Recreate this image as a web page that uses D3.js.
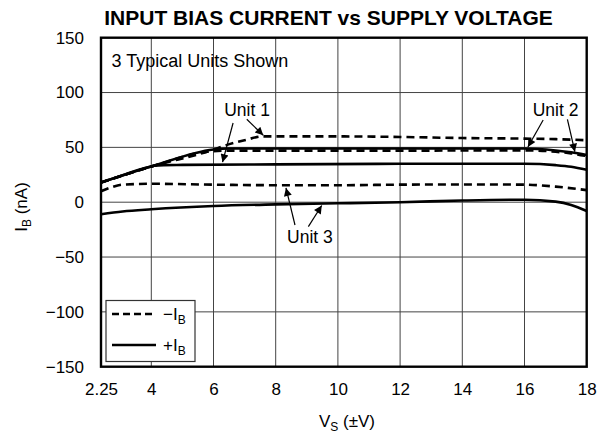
<!DOCTYPE html>
<html>
<head>
<meta charset="utf-8">
<script src="https://cdn.jsdelivr.net/npm/d3@7"></script>
<style>
  html, body { margin: 0; padding: 0; background: #fff; }
  svg { display: block; font-family: "Liberation Sans", Arial, Helvetica, sans-serif; }
</style>
</head>
<body>
<svg id="chart" width="606" height="436"></svg>
<script>
// ---------- data ----------
const title = "INPUT BIAS CURRENT vs SUPPLY VOLTAGE";
const xTicks = [2.25, 4, 6, 8, 10, 12, 14, 16, 18];
const xTickLabels = ["2.25", "4", "6", "8", "10", "12", "14", "16", "18"];
const yTicks = [-150, -100, -50, 0, 50, 100, 150];
const yTickLabels = ["\u2212150", "\u2212100", "\u221250", "0", "50", "100", "150"];

// Unit 1
const unit1NegV = [2.25, 4, 6, 6.3, 7, 7.6, 8, 10, 12, 14, 16, 17, 18];
const unit1NegI = [18, 32.5, 48, 51, 56.5, 60, 60, 60, 59.5, 58.5, 58, 57.5, 56.5];
const unit1PosV = [2.25, 3, 3.75, 4.1, 4.4, 5, 8, 12, 16, 17, 17.5, 18];
const unit1PosI = [18, 24.5, 31, 33.2, 33.8, 34, 34.5, 35, 35, 33.8, 32.3, 29.5];
// Unit 2
const unit2NegV = [2.25, 4, 5.8, 6.5, 8, 12, 16, 17, 17.5, 18];
const unit2NegI = [18, 32.5, 46, 47, 47, 47, 47.3, 46, 44.5, 42];
const unit2PosV = [2.25, 4, 6, 6.5, 8, 12, 16, 17, 17.5, 18];
const unit2PosI = [18, 32.5, 48, 49, 49, 49, 49, 47.2, 45.5, 43];
// Unit 3
const unit3NegV = [2.25, 2.6, 3, 4, 6, 8, 10, 12, 14, 16, 17, 18];
const unit3NegI = [10, 13.5, 16, 16.8, 16, 15.5, 15.5, 16, 16.2, 16, 14.2, 11];
const unit3PosV = [2.25, 3, 4, 6, 8, 10, 12, 14, 16, 17, 17.5, 18];
const unit3PosI = [-11, -8.5, -6.5, -3.5, -2, -1, 0, 1.5, 2.3, 0.5, -2.5, -8];

const series = [
  { name: "Unit 1 -IB", kind: "neg", v: unit1NegV, i: unit1NegI },
  { name: "Unit 1 +IB", kind: "pos", v: unit1PosV, i: unit1PosI },
  { name: "Unit 2 -IB", kind: "neg", v: unit2NegV, i: unit2NegI },
  { name: "Unit 2 +IB", kind: "pos", v: unit2PosV, i: unit2PosI },
  { name: "Unit 3 -IB", kind: "neg", v: unit3NegV, i: unit3NegI },
  { name: "Unit 3 +IB", kind: "pos", v: unit3PosV, i: unit3PosI }
];

// annotation labels (V, nA) and arrows (from -> to)
const labelNames = ["Unit 1", "Unit 2", "Unit 3"];
const labelV = [7.08, 17.0, 9.1];
const labelI = [78.6, 78.6, -37.5];
const arrowFromV = [6.63, 7.07, 16.6, 17.38, 8.62, 9.05];
const arrowFromI = [72.2, 75.6, 75.0, 75.6, -20.8, -22.3];
const arrowToV = [6.29, 7.6, 16.11, 17.62, 8.33, 9.48];
const arrowToI = [36.5, 61.0, 50.3, 46.0, 13.0, -3.0];

// ---------- layout ----------
const svg = d3.select("#chart");
const L = 101, R = 586.7, T = 37.7, B = 366.7;
const FS = 17;

const x = d3.scaleLinear().domain([2.25, 4, 18]).range([L, 151.3, R]);
const y = d3.scaleLinear().domain([-150, 150]).range([B, T]);

// title
svg.append("text")
  .attr("x", 328.5).attr("y", 24.5)
  .attr("text-anchor", "middle")
  .attr("font-size", 21).attr("font-weight", "bold")
  .text(title);

// grid
const grid = svg.append("g");
grid.selectAll("line.v").data(xTicks.slice(1, -1)).enter().append("line")
  .attr("x1", d => x(d)).attr("x2", d => x(d))
  .attr("y1", T).attr("y2", B)
  .attr("stroke", "#444").attr("stroke-width", 1);
grid.selectAll("line.h").data(yTicks.slice(1, -1)).enter().append("line")
  .attr("y1", d => y(d)).attr("y2", d => y(d))
  .attr("x1", L).attr("x2", R)
  .attr("stroke", "#444").attr("stroke-width", 1);

// axes (labels only)
const xAxis = d3.axisBottom(x).tickValues(xTicks)
  .tickFormat((d, k) => xTickLabels[k]).tickSize(0).tickPadding(16);
const gx = svg.append("g").attr("transform", `translate(0,${B})`).call(xAxis);
gx.select(".domain").remove();
gx.selectAll("text").attr("font-size", FS).attr("fill", "#000")
  .attr("font-family", "'Liberation Sans', Arial, sans-serif");

const yAxis = d3.axisLeft(y).tickValues(yTicks)
  .tickFormat((d, k) => yTickLabels[k]).tickSize(0).tickPadding(17);
const gy = svg.append("g").attr("transform", `translate(${L},0)`).call(yAxis);
gy.select(".domain").remove();
gy.selectAll("text").attr("font-size", FS).attr("fill", "#000")
  .attr("font-family", "'Liberation Sans', Arial, sans-serif");

// curves
const line = d3.line().x(d => x(d[0])).y(d => y(d[1])).curve(d3.curveMonotoneX);
const plot = svg.append("g");
series.forEach(s => {
  const pts = s.v.map((v, k) => [v, s.i[k]]);
  plot.append("path")
    .attr("d", line(pts))
    .attr("fill", "none")
    .attr("stroke", "#000")
    .attr("stroke-width", 2.6)
    .attr("stroke-dasharray", s.kind === "neg" ? "8,5" : null);
});

// frame
svg.append("rect")
  .attr("x", L).attr("y", T).attr("width", R - L).attr("height", B - T)
  .attr("fill", "none").attr("stroke", "#000").attr("stroke-width", 2.4);

// "3 Typical Units Shown"
svg.append("text")
  .attr("x", L + 10.5).attr("y", y(123.3))
  .attr("font-size", 18).text("3 Typical Units Shown");

// arrows
const defs = svg.append("defs");
defs.append("marker").attr("id", "ah")
  .attr("viewBox", "0 0 10 10").attr("refX", 10).attr("refY", 5)
  .attr("markerWidth", 13).attr("markerHeight", 8)
  .attr("markerUnits", "userSpaceOnUse")
  .attr("orient", "auto")
  .append("path").attr("d", "M0,0 L10,5 L0,10 Z").attr("fill", "#000");

arrowFromV.forEach((v, k) => {
  svg.append("line")
    .attr("x1", x(v)).attr("y1", y(arrowFromI[k]))
    .attr("x2", x(arrowToV[k])).attr("y2", y(arrowToI[k]))
    .attr("stroke", "#000").attr("stroke-width", 1.2)
    .attr("marker-end", "url(#ah)");
});

labelNames.forEach((n, k) => {
  svg.append("text")
    .attr("x", x(labelV[k])).attr("y", y(labelI[k]))
    .attr("text-anchor", "middle").attr("font-size", 17.5)
    .text(n);
});

// legend
const lg = svg.append("g");
lg.append("rect").attr("x", 106).attr("y", 300.5).attr("width", 89).attr("height", 61)
  .attr("fill", "#fff").attr("stroke", "#333").attr("stroke-width", 1.2);
lg.append("line").attr("x1", 112).attr("x2", 156).attr("y1", 314).attr("y2", 314)
  .attr("stroke", "#000").attr("stroke-width", 2.4).attr("stroke-dasharray", "7,4");
lg.append("line").attr("x1", 112).attr("x2", 156).attr("y1", 345).attr("y2", 345)
  .attr("stroke", "#000").attr("stroke-width", 2.6);
const t1 = lg.append("text").attr("x", 163).attr("y", 320).attr("font-size", FS);
t1.append("tspan").text("\u2212I");
t1.append("tspan").attr("font-size", 12).attr("dy", 4).text("B");
const t2 = lg.append("text").attr("x", 163).attr("y", 351).attr("font-size", FS);
t2.append("tspan").text("+I");
t2.append("tspan").attr("font-size", 12).attr("dy", 4).text("B");

// axis titles
const xt = svg.append("text").attr("x", 347).attr("y", 427)
  .attr("text-anchor", "middle").attr("font-size", FS);
xt.append("tspan").text("V");
xt.append("tspan").attr("font-size", 12).attr("dy", 4).text("S");
xt.append("tspan").attr("dy", -4).text(" (\u00B1V)");

const yt = svg.append("text")
  .attr("transform", `translate(27,207) rotate(-90)`)
  .attr("text-anchor", "middle").attr("font-size", FS);
yt.append("tspan").text("I");
yt.append("tspan").attr("font-size", 12).attr("dy", 4).text("B");
yt.append("tspan").attr("dy", -4).text(" (nA)");
</script>
</body>
</html>
